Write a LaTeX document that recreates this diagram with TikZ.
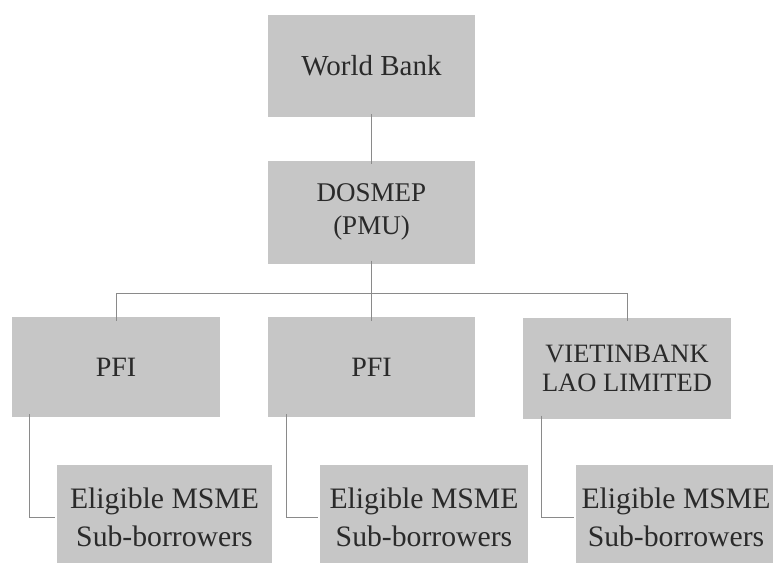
\documentclass[tikz,border=0pt]{standalone}
\usepackage{fontspec}
\setmainfont{Liberation Serif}
\definecolor{boxfill}{HTML}{C6C6C6}
\definecolor{txt}{HTML}{2A2A2A}
\definecolor{ln}{HTML}{8A8A8A}
\tikzset{
  orgbox/.style={rectangle, fill=boxfill, draw=none, align=center, text=txt,
    font=\fontsize{28}{34}\selectfont, inner sep=0pt},
  msbox/.style={orgbox, minimum height=104, font=\fontsize{29.7}{38}\selectfont},
  conn/.style={draw=ln, line width=0.9pt},
}
\begin{document}
\begin{tikzpicture}[x=1pt,y=-1pt]
\useasboundingbox (0,0) rectangle (773,562);
\clip (0,0) rectangle (773,562);
\fill[white] (0,0) rectangle (773,562);
\node[orgbox, minimum width=207, minimum height=102, font=\fontsize{29}{34}\selectfont] (wb) at (371.5,66) {World Bank};
\node[orgbox, minimum width=207, minimum height=103, font=\fontsize{27}{33}\selectfont] (dos) at (371.5,212) {DOSMEP\\(PMU)};
\node[orgbox, minimum width=208, minimum height=100] (pfi1) at (116,367) {PFI};
\node[orgbox, minimum width=207, minimum height=100] (pfi2) at (371.5,367) {PFI};
\node[orgbox, minimum width=208, minimum height=101, font=\fontsize{26.5}{29}\selectfont] (viet) at (627,368) {VIETINBANK\\LAO LIMITED};
\node[msbox, minimum width=215] (ms1) at (164.5,517) {Eligible MSME\\Sub-borrowers};
\node[msbox, minimum width=208] (ms2) at (424,517) {Eligible MSME\\Sub-borrowers};
\node[msbox, minimum width=200] (ms3) at (676,517) {Eligible MSME\\Sub-borrowers};
\fill[boxfill] (ms3.north east) rectangle ([xshift=20]ms3.south east);
\coordinate (bus) at (371.5,293);
\draw[conn] ([yshift=3]wb.south) -- ([yshift=-4]dos.north);
\draw[conn] ([yshift=3]dos.south) -- (bus);
\draw[conn] (pfi1.north |- bus) -- (viet.north |- bus);
\draw[conn] (pfi1.north |- bus) -- ([yshift=-4]pfi1.north);
\draw[conn] (bus) -- ([yshift=-4]pfi2.north);
\draw[conn] (viet.north |- bus) -- ([yshift=-4]viet.north);
\draw[conn] ([xshift=18,yshift=3]pfi1.south west) |- ([xshift=-2]ms1.west);
\draw[conn] ([xshift=19,yshift=3]pfi2.south west) |- ([xshift=-2]ms2.west);
\draw[conn] ([xshift=19,yshift=3]viet.south west) |- ([xshift=-2]ms3.west);
\end{tikzpicture}
\end{document}
